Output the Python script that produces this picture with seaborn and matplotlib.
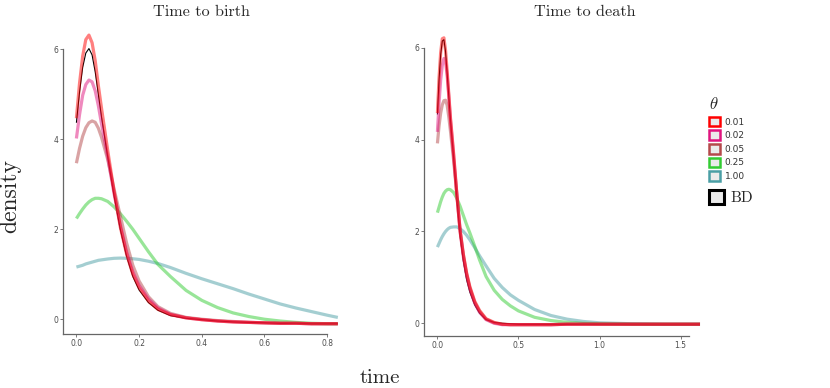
import numpy as np
import pandas as pd
import matplotlib
matplotlib.use("Agg")
import matplotlib.pyplot as plt
import seaborn as sns
from matplotlib.patches import Patch

# -----------------------------
# Data
# -----------------------------
THETAS = ["0.01", "0.02", "0.05", "0.25", "1.00"]
THETA_COLORS = ["#FF0000", "#E0157F", "#B5494B", "#33CC33", "#4A9FA5"]

# Time to birth
X_BIRTH = [0, 0.01, 0.02, 0.03, 0.04, 0.05, 0.06, 0.07, 0.08, 0.1, 0.12, 0.14, 0.16, 0.18,
           0.2, 0.23, 0.26, 0.3, 0.35, 0.4, 0.45, 0.5, 0.55, 0.6, 0.65, 0.7, 0.75, 0.8, 0.834]
BIRTH_BD = [4.37, 5.05, 5.6, 5.92, 6.02, 5.88, 5.5, 5.0, 4.5, 3.6, 2.75, 2.0, 1.4, 0.95,
            0.65, 0.37, 0.2, 0.08, 0.02, -0.01, -0.04, -0.06, -0.07, -0.08, -0.09, -0.09, -0.1, -0.1, -0.1]
BIRTH_001 = [4.47, 5.25, 5.85, 6.22, 6.32, 6.15, 5.75, 5.2, 4.7, 3.75, 2.85, 2.05, 1.45, 1.0,
             0.7, 0.4, 0.22, 0.1, 0.03, -0.01, -0.04, -0.06, -0.07, -0.08, -0.09, -0.09, -0.1, -0.1, -0.1]
BIRTH_002 = [4.02, 4.55, 4.98, 5.22, 5.32, 5.28, 5.08, 4.75, 4.35, 3.6, 2.8, 2.1, 1.5, 1.05,
             0.75, 0.45, 0.25, 0.11, 0.03, -0.01, -0.04, -0.06, -0.07, -0.08, -0.09, -0.09, -0.1, -0.1, -0.1]
BIRTH_005 = [3.47, 3.8, 4.07, 4.26, 4.37, 4.41, 4.38, 4.25, 4.05, 3.55, 2.9, 2.3, 1.7, 1.2,
             0.85, 0.5, 0.28, 0.13, 0.04, 0.0, -0.03, -0.05, -0.07, -0.08, -0.09, -0.09, -0.1, -0.1, -0.1]
BIRTH_025 = [2.24, 2.35, 2.45, 2.54, 2.61, 2.66, 2.69, 2.69, 2.68, 2.62, 2.5, 2.35, 2.18, 2.0,
             1.8, 1.5, 1.22, 0.95, 0.64, 0.42, 0.26, 0.14, 0.06, 0.0, -0.04, -0.07, -0.09, -0.1, -0.1]
BIRTH_100 = [1.16, 1.18, 1.2, 1.23, 1.25, 1.27, 1.29, 1.31, 1.32, 1.34, 1.355, 1.36, 1.355, 1.345,
             1.33, 1.29, 1.24, 1.15, 1.02, 0.9, 0.79, 0.68, 0.56, 0.45, 0.34, 0.25, 0.17, 0.09, 0.04]

# Time to death
X_DEATH = [0, 0.01, 0.02, 0.03, 0.04, 0.05, 0.06, 0.07, 0.08, 0.1, 0.12, 0.14, 0.16, 0.18,
           0.2, 0.23, 0.26, 0.3, 0.35, 0.4, 0.45, 0.5, 0.6, 0.7, 0.8, 0.9, 1.0, 1.2, 1.4, 1.62]
DEATH_BD = [4.55, 5.3, 5.85, 6.15, 6.18, 5.92, 5.45, 4.95, 4.45, 3.6, 2.7, 1.9, 1.35, 0.95,
            0.68, 0.4, 0.22, 0.08, 0.02, 0.0, -0.01, -0.02, -0.02, -0.02, -0.02, -0.02, -0.02, -0.02, -0.02, -0.02]
DEATH_001 = [4.58, 5.35, 5.9, 6.2, 6.22, 5.95, 5.5, 5.0, 4.5, 3.7, 2.8, 2.0, 1.5, 1.1,
             0.8, 0.48, 0.28, 0.1, 0.02, -0.02, -0.03, -0.03, -0.03, -0.03, -0.02, -0.02, -0.02, -0.02, -0.02, -0.02]
DEATH_002 = [4.17, 4.8, 5.3, 5.62, 5.77, 5.7, 5.4, 4.95, 4.45, 3.65, 2.8, 2.0, 1.45, 1.05,
             0.75, 0.44, 0.24, 0.08, 0.0, -0.03, -0.03, -0.03, -0.03, -0.03, -0.02, -0.02, -0.02, -0.02, -0.02, -0.02]
DEATH_005 = [3.92, 4.3, 4.58, 4.76, 4.85, 4.86, 4.75, 4.5, 4.2, 3.55, 2.8, 2.05, 1.5, 1.08,
             0.78, 0.46, 0.26, 0.09, 0.01, -0.02, -0.03, -0.03, -0.03, -0.03, -0.02, -0.02, -0.02, -0.02, -0.02, -0.02]
DEATH_025 = [2.41, 2.53, 2.65, 2.75, 2.83, 2.88, 2.91, 2.92, 2.91, 2.85, 2.72, 2.55, 2.35, 2.15,
             1.97, 1.68, 1.38, 1.02, 0.72, 0.52, 0.38, 0.27, 0.13, 0.06, 0.02, 0.0, -0.01, -0.02, -0.02, -0.02]
DEATH_100 = [1.66, 1.74, 1.82, 1.89, 1.95, 2.0, 2.04, 2.07, 2.09, 2.1, 2.1, 2.06, 2.0, 1.92,
             1.82, 1.65, 1.47, 1.25, 0.98, 0.78, 0.62, 0.5, 0.3, 0.17, 0.09, 0.04, 0.01, -0.01, -0.02, -0.02]


def long_frame(x, series):
    rows = []
    for theta, ys in series.items():
        for xi, yi in zip(x, ys):
            rows.append({"time": xi, "density": yi, "theta": theta})
    return pd.DataFrame(rows)


df_birth = long_frame(X_BIRTH, dict(zip(THETAS, [BIRTH_001, BIRTH_002, BIRTH_005, BIRTH_025, BIRTH_100])))
df_death = long_frame(X_DEATH, dict(zip(THETAS, [DEATH_001, DEATH_002, DEATH_005, DEATH_025, DEATH_100])))
bd_birth = pd.DataFrame({"time": X_BIRTH, "density": BIRTH_BD})
bd_death = pd.DataFrame({"time": X_DEATH, "density": DEATH_BD})

palette = dict(zip(THETAS, THETA_COLORS))
draw_order = THETAS[::-1]  # 0.01 drawn last, on top

# -----------------------------
# Figure
# -----------------------------
sns.set_style("ticks")
plt.rcParams["mathtext.fontset"] = "cm"
SERIF = "cmr10"
TICK_COL = "#4d4d4d"

fig = plt.figure(figsize=(8.3, 3.88), dpi=100)
ax1 = fig.add_axes([0.0763, 0.139, 0.3466, 0.810])
ax2 = fig.add_axes([0.5112, 0.134, 0.3478, 0.8064])

panels = [
    (ax1, df_birth, bd_birth, (-0.0417, 0.876), (-0.33, 6.66), 0.8,
     [0, 0.2, 0.4, 0.6, 0.8], ["0.0", "0.2", "0.4", "0.6", "0.8"]),
    (ax2, df_death, bd_death, (-0.081, 1.70), (-0.277, 6.54), 1.555,
     [0, 0.5, 1.0, 1.5], ["0.0", "0.5", "1.0", "1.5"]),
]

for ax, df, bd, xlim, ylim, xcap, xt, xtl in panels:
    sns.lineplot(data=bd, x="time", y="density", color="black", lw=0.8,
                 estimator=None, ax=ax, legend=False)
    sns.lineplot(data=df, x="time", y="density", hue="theta", hue_order=draw_order,
                 palette=palette, alpha=0.5, lw=2.3, estimator=None, ax=ax, legend=False)
    for ln in ax.lines:
        ln.set_solid_capstyle("butt")
        ln.set_solid_joinstyle("round")
    ax.set_xlim(*xlim)
    ax.set_ylim(*ylim)
    ax.set_xticks(xt)
    ax.set_xticklabels(xtl)
    ax.set_yticks([0, 2, 4, 6])
    ax.set_yticklabels(["0", "2", "4", "6"])
    ax.set_xlabel("")
    ax.set_ylabel("")
    sns.despine(ax=ax)
    ax.spines["bottom"].set_bounds(xlim[0], xcap)
    ax.spines["left"].set_bounds(ylim[0], 6)
    for s in ("bottom", "left"):
        ax.spines[s].set_color("#666666")
        ax.spines[s].set_linewidth(0.9)
    ax.tick_params(length=2, width=0.6, color="#666666", labelsize=5.5,
                   labelcolor=TICK_COL, pad=1.5)
    ax.patch.set_alpha(0)

fig.text(201 / 830, 1 - 12 / 388, "Time to birth", family=SERIF, size=11.7, ha="center", va="center")
fig.text(585 / 830, 1 - 12 / 388, "Time to death", family=SERIF, size=11.7, ha="center", va="center")
fig.text(10 / 830, 1 - 196 / 388, "density", family=SERIF, size=17, rotation=90, ha="center", va="center")
fig.text(380 / 830, 1 - 378 / 388, "time", family=SERIF, size=15, ha="center", va="center")

# legends
theta_handles = [Patch(facecolor="#ebebeb", edgecolor=c, linewidth=1.8) for c in THETA_COLORS]
leg1 = fig.legend(theta_handles, THETAS, title=r"$\theta$", loc="upper left",
                  bbox_to_anchor=(709 / 830, 1 - 95 / 388), frameon=False,
                  fontsize=6.5, title_fontsize=12, handlelength=1.25, handleheight=1.25,
                  labelspacing=0.42, handletextpad=0.5, borderpad=0.0, borderaxespad=0.0)
leg1._legend_box.align = "left"
for t in leg1.get_texts():
    t.set_color("#333333")

bd_handle = [Patch(facecolor="#ebebeb", edgecolor="black", linewidth=2.2)]
leg2 = fig.legend(bd_handle, ["BD"], loc="upper left", bbox_to_anchor=(709 / 830, 1 - 190 / 388),
                  frameon=False, prop={"family": SERIF, "size": 11}, handlelength=1.0,
                  handleheight=1.0, handletextpad=0.4, borderpad=0.0, borderaxespad=0.0)

fig.savefig("out.png", dpi=100)
